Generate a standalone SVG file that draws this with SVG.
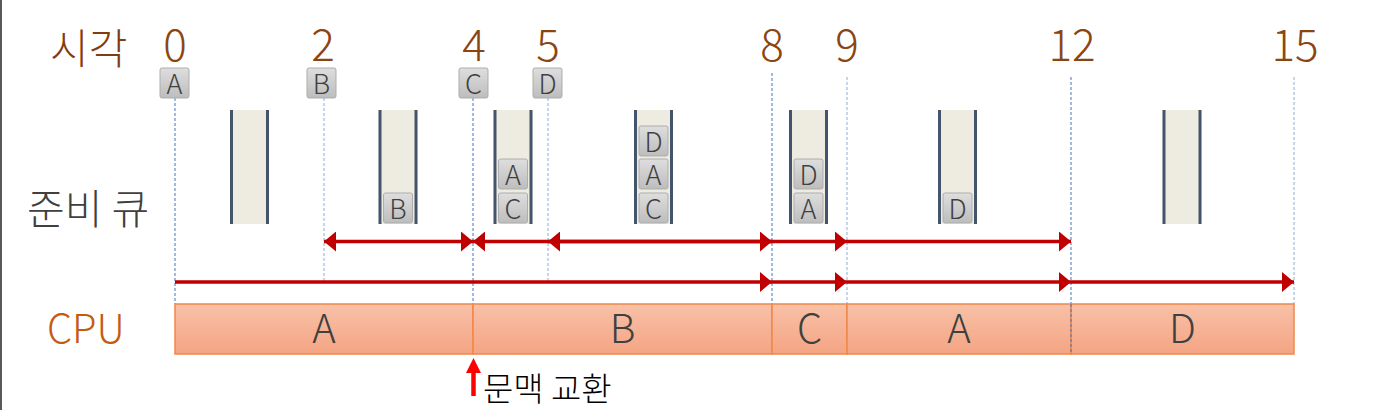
<svg xmlns="http://www.w3.org/2000/svg" width="1377" height="410" viewBox="0 0 1377 410">
<style>
text{font-family:"Noto Sans CJK KR","Noto Sans",sans-serif;font-weight:300;}
.time{font-size:44px;fill:#8B4513;text-anchor:middle;}
.lbl{fill:#404040;}
.badge rect{fill:url(#bg);stroke:#ADADAD;stroke-width:1;}
.badge text{font-size:27px;fill:#404040;text-anchor:middle;}
.q rect{fill:#EEECE1;}
.q line{stroke:#44546A;stroke-width:3;}
.dash{stroke:#4472C4;stroke-width:1;stroke-dasharray:3 2;fill:none;}
.dash2{stroke:#8FAADC;stroke-width:1;stroke-dasharray:3 2;fill:none;}
.arr{stroke:#C00000;stroke-width:3.5;fill:none;}
.cpu rect{fill:url(#cg);stroke:#F0884A;stroke-width:1.5;}
.cpu text{font-size:40px;fill:#404040;text-anchor:middle;}
</style>
<defs>
<linearGradient id="bg" x1="0" y1="0" x2="0" y2="1"><stop offset="0" stop-color="#DEDEDE"/><stop offset="1" stop-color="#BDBDBD"/></linearGradient>
<linearGradient id="cg" x1="0" y1="0" x2="0" y2="1"><stop offset="0" stop-color="#F8C1A8"/><stop offset="1" stop-color="#F4A483"/></linearGradient>
<marker id="ah" viewBox="0 0 12 20" refX="12" refY="10" markerWidth="12" markerHeight="20" markerUnits="userSpaceOnUse" orient="auto-start-reverse"><path d="M0,0 L12,10 L0,20 Z" fill="#C00000"/></marker>
</defs>
<rect x="0" y="0" width="2" height="410" fill="#595959"/>
<g id="labels">
<text x="50" y="64" style="font-size:42px;fill:#843C0C">시각</text>
<text x="27" y="224" class="lbl" style="font-size:41px">준비 큐</text>
<text x="47" y="343" style="font-size:40px;fill:#C55A11">CPU</text>
</g>
<g id="times">
<text class="time" x="175" y="61">0</text>
<text class="time" x="323" y="61">2</text>
<text class="time" x="474" y="61">4</text>
<text class="time" x="548" y="61">5</text>
<text class="time" x="772" y="61">8</text>
<text class="time" x="847" y="61">9</text>
<text class="time" x="1072" y="61">12</text>
<text class="time" x="1295" y="61">15</text>
</g>
<g id="gridlines">
<line class="dash" x1="175" y1="98" x2="175" y2="304"/>
<line class="dash2" x1="324" y1="98" x2="324" y2="282"/>
<line class="dash" x1="473" y1="98" x2="473" y2="304"/>
<line class="dash2" x1="548" y1="98" x2="548" y2="282"/>
<line class="dash" x1="772" y1="73" x2="772" y2="304"/>
<line class="dash2" x1="847" y1="77" x2="847" y2="304"/>
<line class="dash" x1="1071" y1="77" x2="1071" y2="304"/>
<line class="dash2" x1="1294" y1="77" x2="1294" y2="304"/>
</g>
<g id="arrivals">
<g id="arr-A" class="badge"><rect x="160" y="68" width="29" height="30" rx="2"/><text x="174.5" y="93.5">A</text></g>
<g id="arr-B" class="badge"><rect x="307" y="68" width="29" height="30" rx="2"/><text x="321.5" y="93.5">B</text></g>
<g id="arr-C" class="badge"><rect x="459" y="68" width="29" height="30" rx="2"/><text x="473.5" y="93.5">C</text></g>
<g id="arr-D" class="badge"><rect x="533" y="68" width="29" height="30" rx="2"/><text x="547.5" y="93.5">D</text></g>
</g>
<g id="queues">
<g id="q1" class="q"><rect x="230" y="110" width="39" height="114"/><line x1="231.5" y1="110" x2="231.5" y2="224"/><line x1="267.5" y1="110" x2="267.5" y2="224"/></g>
<g id="q2" class="q"><rect x="378.5" y="110" width="39" height="114"/><line x1="380" y1="110" x2="380" y2="224"/><line x1="416" y1="110" x2="416" y2="224"/></g>
<g id="q3" class="q"><rect x="493.5" y="110" width="39" height="114"/><line x1="495" y1="110" x2="495" y2="224"/><line x1="531" y1="110" x2="531" y2="224"/></g>
<g id="q4" class="q"><rect x="634" y="110" width="39" height="114"/><line x1="635.5" y1="110" x2="635.5" y2="224"/><line x1="671.5" y1="110" x2="671.5" y2="224"/></g>
<g id="q5" class="q"><rect x="789" y="110" width="39" height="114"/><line x1="790.5" y1="110" x2="790.5" y2="224"/><line x1="826.5" y1="110" x2="826.5" y2="224"/></g>
<g id="q6" class="q"><rect x="938" y="110" width="39" height="114"/><line x1="939.5" y1="110" x2="939.5" y2="224"/><line x1="975.5" y1="110" x2="975.5" y2="224"/></g>
<g id="q7" class="q"><rect x="1162.5" y="110" width="39" height="114"/><line x1="1164" y1="110" x2="1164" y2="224"/><line x1="1200" y1="110" x2="1200" y2="224"/></g>
</g>
<g id="queue-items">
<g class="badge"><rect x="383.5" y="193" width="29" height="30" rx="2"/><text x="398" y="218.5">B</text></g>
<g class="badge"><rect x="498.5" y="159" width="29" height="30" rx="2"/><text x="513" y="184.5">A</text></g>
<g class="badge"><rect x="498.5" y="193" width="29" height="30" rx="2"/><text x="513" y="218.5">C</text></g>
<g class="badge"><rect x="639" y="126" width="29" height="30" rx="2"/><text x="653.5" y="151.5">D</text></g>
<g class="badge"><rect x="639" y="159" width="29" height="30" rx="2"/><text x="653.5" y="184.5">A</text></g>
<g class="badge"><rect x="639" y="193" width="29" height="30" rx="2"/><text x="653.5" y="218.5">C</text></g>
<g class="badge"><rect x="794" y="159" width="29" height="30" rx="2"/><text x="808.5" y="184.5">D</text></g>
<g class="badge"><rect x="794" y="193" width="29" height="30" rx="2"/><text x="808.5" y="218.5">A</text></g>
<g class="badge"><rect x="943" y="193" width="29" height="30" rx="2"/><text x="957.5" y="218.5">D</text></g>
</g>
<g id="connectors">
<path class="arr" d="M324,241.5 H473" marker-start="url(#ah)" marker-end="url(#ah)"/>
<path class="arr" d="M473,241.5 H772" marker-start="url(#ah)" marker-end="url(#ah)"/>
<path class="arr" d="M548,241.5 H772" marker-start="url(#ah)"/>
<path class="arr" d="M772,241.5 H847" marker-end="url(#ah)"/>
<path class="arr" d="M847,241.5 H1071" marker-end="url(#ah)"/>
<path class="arr" d="M175,282 H772" marker-end="url(#ah)"/>
<path class="arr" d="M772,282 H847" marker-end="url(#ah)"/>
<path class="arr" d="M847,282 H1071" marker-end="url(#ah)"/>
<path class="arr" d="M1071,282 H1294" marker-end="url(#ah)"/>
</g>
<g id="cpu" class="cpu">
<g id="cpu-A1"><rect x="175" y="304" width="298" height="50"/><text x="324" y="343">A</text></g>
<g id="cpu-B"><rect x="473" y="304" width="299" height="50"/><text x="622.5" y="343">B</text></g>
<g id="cpu-C"><rect x="772" y="304" width="75" height="50"/><text x="809.5" y="343">C</text></g>
<g id="cpu-A2"><rect x="847" y="304" width="224" height="50"/><text x="959" y="343">A</text></g>
<g id="cpu-D"><rect x="1071" y="304" width="223" height="50"/><text x="1182.5" y="343">D</text></g>
</g>
<line class="dash" x1="1071" y1="304" x2="1071" y2="354"/>
<g id="context-switch">
<line x1="473.5" y1="371" x2="473.5" y2="396" stroke="#FF0000" stroke-width="4.5"/>
<path d="M466,373 L473.5,358 L481,373 Z" fill="#FF0000"/>
<text x="483" y="401" style="font-size:33px;fill:#000">문맥 교환</text>
</g>
</svg>
